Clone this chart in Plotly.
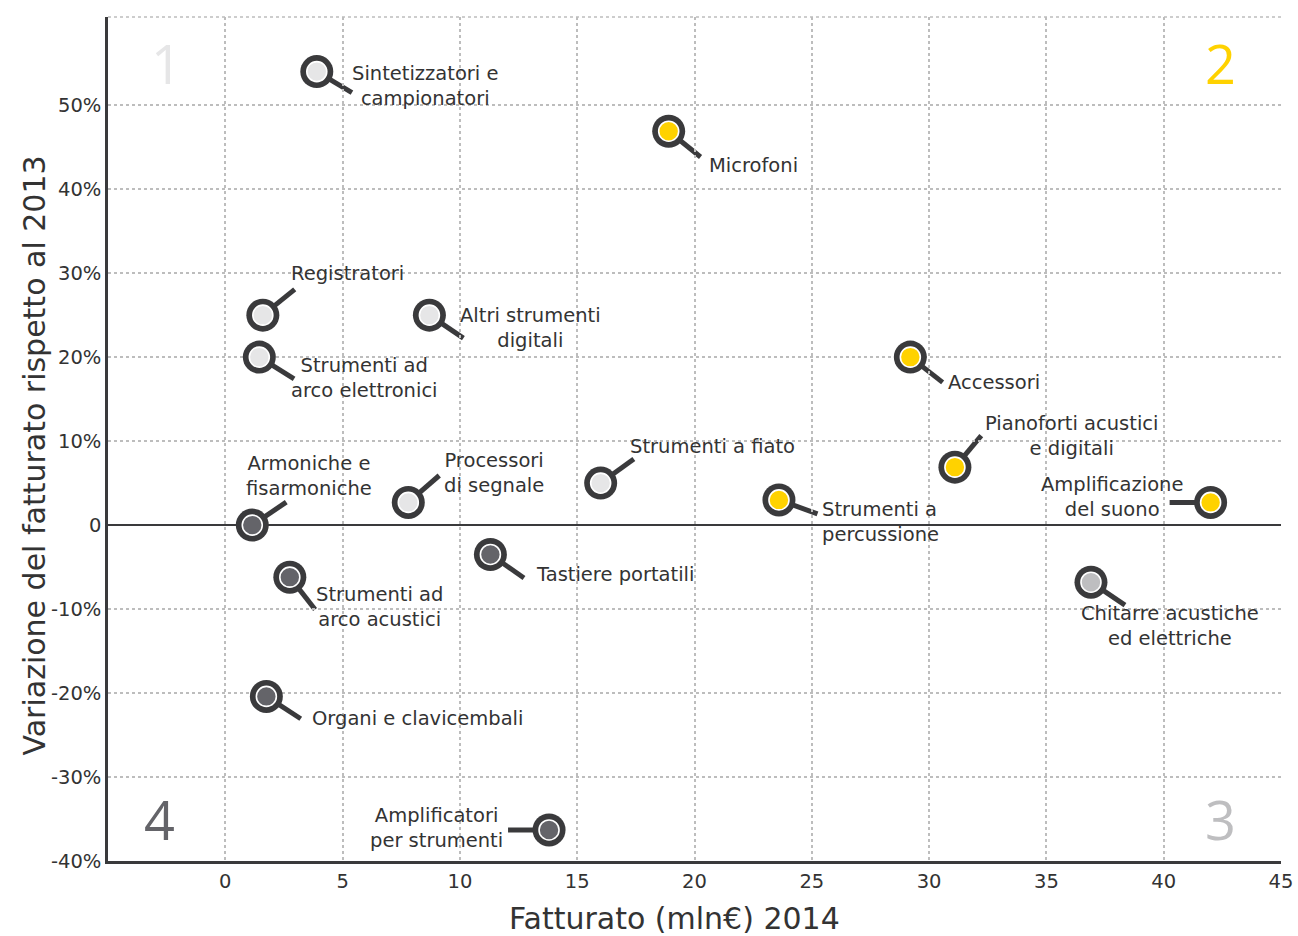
import math
import plotly.graph_objects as go

# ---- data ----
categories = [
    "Sintetizzatori e<br>campionatori", "Microfoni", "Registratori",
    "Altri strumenti<br>digitali", "Strumenti ad<br>arco elettronici", "Accessori",
    "Pianoforti acustici<br>e digitali", "Strumenti a fiato", "Processori<br>di segnale",
    "Strumenti a<br>percussione", "Amplificazione<br>del suono", "Armoniche e<br>fisarmoniche",
    "Tastiere portatili", "Strumenti ad<br>arco acustici", "Chitarre acustiche<br>ed elettriche",
    "Organi e clavicembali", "Amplificatori<br>per strumenti",
]
fatturato_2014 = [3.9, 18.9, 1.6, 8.7, 1.45, 29.2, 31.1, 16.0, 7.8, 23.6, 42.0, 1.15,
                  11.3, 2.75, 36.9, 1.75, 13.8]
variazione_pct = [54.0, 46.9, 25.0, 25.0, 20.0, 20.0, 6.9, 5.0, 2.7, 3.0, 2.7, 0.0,
                  -3.5, -6.2, -6.8, -20.4, -36.3]
group = ["light", "yellow", "light", "light", "light", "yellow", "yellow", "light", "light",
         "yellow", "yellow", "dark", "dark", "dark", "mid", "dark", "dark"]

x_ticks = [0, 5, 10, 15, 20, 25, 30, 35, 40, 45]
y_ticks = [-40, -30, -20, -10, 0, 10, 20, 30, 40, 50]
y_tick_labels = ["-40%", "-30%", "-20%", "-10%", "0", "10%", "20%", "30%", "40%", "50%"]
x_title = "Fatturato (mln€) 2014"
y_title = "Variazione del fatturato rispetto al 2013"

# ---- style ----
fill_colors = {"light": "#E6E6E7", "yellow": "#FFD200", "mid": "#BEBEC0", "dark": "#646469"}
ring_color = "#3A3A3C"
text_color = "#333333"
handle_angles = [-31, -39, 39, -34, -32, -38, 50, 36, 41, -20, 180, 34, -35, -52, -34, -33, 180]
# label offsets (pixels, from the point centre) and alignment
label_offsets = [(109, -14), (85, -34), (85, 42), (101, -13), (105, -21), (84, -25),
                 (117, 31), (112, 37), (86, 29), (102, -22), (-99, 5), (57, 49),
                 (125, -20), (90, -30), (79, -44), (151, -22), (-113, 2)]
label_align = ["center", "left", "left", "center", "center", "left", "center", "left", "center",
               "left", "center", "center", "left", "center", "center", "left", "center"]

FONT = "DejaVu Sans"

fig = go.Figure()

# outer dark ring
fig.add_trace(go.Scatter(
    x=fatturato_2014, y=variazione_pct, mode="markers",
    marker=dict(size=33, color=ring_color, line=dict(width=0)),
    hoverinfo="skip", showlegend=False, cliponaxis=False))
# inner fill with thin white ring
fig.add_trace(go.Scatter(
    x=fatturato_2014, y=variazione_pct, mode="markers",
    marker=dict(size=20, color=[fill_colors[g] for g in group], line=dict(width=1.6, color="white")),
    text=categories, hoverinfo="text", showlegend=False, cliponaxis=False))

shapes = []
for xv, yv, ang in zip(fatturato_2014, variazione_pct, handle_angles):
    a = math.radians(ang)
    L = 41
    shapes.append(dict(type="line", xref="x", yref="y", xsizemode="pixel", ysizemode="pixel",
                       xanchor=xv, yanchor=yv, x0=0, y0=0,
                       x1=L * math.cos(a), y1=L * math.sin(a),
                       line=dict(color=ring_color, width=5), layer="below"))
# dotted top border
shapes.append(dict(type="line", xref="paper", yref="paper", x0=0, x1=1, y0=1, y1=1,
                   line=dict(color="#BDBDBD", width=1.5, dash="dot"), layer="below"))

annotations = []
for cat, xv, yv, (dx, dy), al in zip(categories, fatturato_2014, variazione_pct, label_offsets, label_align):
    annotations.append(dict(x=xv, y=yv, xref="x", yref="y", text=cat, showarrow=False,
                            xshift=dx, yshift=dy, align=al,
                            font=dict(family=FONT, size=19.5, color=text_color)))

quadrants = [("1", -2.5, 55, "#E6E6E7"), ("2", 42.4, 55, "#FFD200"),
             ("3", 42.4, -35, "#BEBEC0"), ("4", -2.8, -35, "#646469")]
for t, qx, qy, c in quadrants:
    annotations.append(dict(x=qx, y=qy, xref="x", yref="y", text=t, showarrow=False,
                            font=dict(family="Open Sans", size=54, color=c)))

# axis titles (placed like the reference, slightly off-centre)
annotations.append(dict(x=0.483, y=-0.068, xref="paper", yref="paper", text=x_title,
                        showarrow=False, xanchor="center", yanchor="middle",
                        font=dict(family=FONT, size=30, color=text_color)))
annotations.append(dict(x=-0.0627, y=0.481, xref="paper", yref="paper", text=y_title,
                        showarrow=False, textangle=-90, xanchor="center", yanchor="middle",
                        font=dict(family=FONT, size=30, color=text_color)))

fig.update_layout(
    width=1298, height=936,
    margin=dict(l=108, r=17, t=17, b=75),
    paper_bgcolor="white", plot_bgcolor="white",
    font=dict(family=FONT, color=text_color),
    shapes=shapes, annotations=annotations,
    xaxis=dict(range=[-5, 45], tickvals=x_ticks, ticktext=[str(v) for v in x_ticks],
               automargin=False,
               showgrid=True, gridcolor="#BDBDBD", griddash="dot", gridwidth=1.5,
               zeroline=False, showline=True, linecolor=ring_color, linewidth=2.5,
               ticks="", ticklabelstandoff=1, tickfont=dict(family=FONT, size=19.5, color=text_color)),
    yaxis=dict(range=[-40, 60.5], tickvals=y_ticks, ticktext=y_tick_labels,
               automargin=False,
               showgrid=True, gridcolor="#BDBDBD", griddash="dot", gridwidth=1.5,
               zeroline=True, zerolinecolor=ring_color, zerolinewidth=2,
               showline=True, linecolor=ring_color, linewidth=2.5,
               ticks="", ticklabelstandoff=0, tickfont=dict(family=FONT, size=19.5, color=text_color)),
)

fig.write_html(
    "out.html",
    config={"displayModeBar": False},
    post_script="document.documentElement.style.overflow='hidden';"
                "document.body.style.margin='0px';document.body.style.overflow='hidden';",
)
